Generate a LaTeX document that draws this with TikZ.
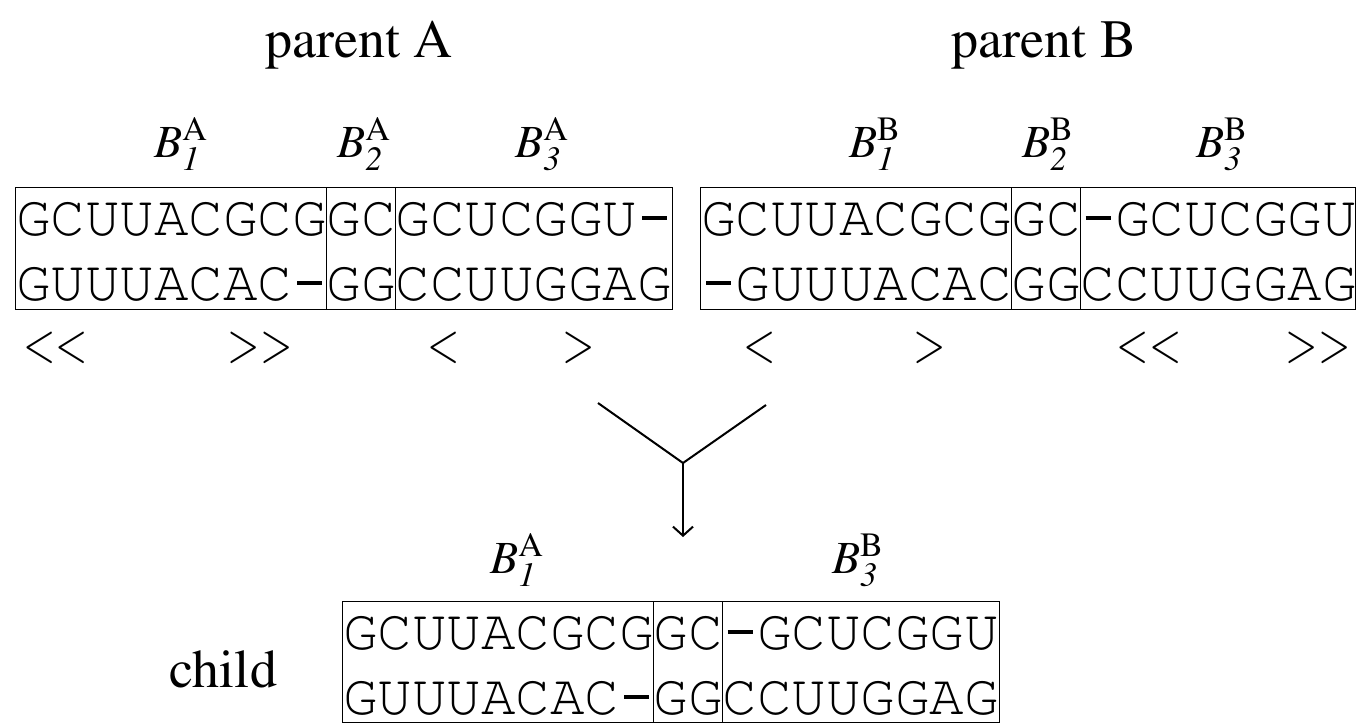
\documentclass[tikz,border=0pt]{standalone}
\usepackage[T1]{fontenc}
\usepackage{mathptmx}
\usepackage{graphicx}
\renewcommand\ttdefault{pcr}
\usetikzlibrary{arrows.meta}

% alignment gap: a heavy dash centred in one monospace cell
\newcommand\gp{\makebox[0.6em]{\rule[0.263em]{0.435em}{0.065em}}}
% structure brackets, slightly narrowed
\newcommand\opn{\scalebox{0.8}[1.05]{$\mathord{<}$}}
\newcommand\cls{\scalebox{0.8}[1.05]{$\mathord{>}$}}

\tikzset{
  seq/.style={anchor=base west, inner sep=0pt, font=\ttfamily\fontsize{28.75}{30}\selectfont},
  blk/.style={anchor=base, inner sep=0pt, font=\fontsize{23}{26}\selectfont},
  title/.style={anchor=base, inner sep=0pt, font=\fontsize{27}{30}\selectfont},
  brk/.style={anchor=base, inner sep=0pt, font=\fontsize{26}{28}\selectfont},
  frame/.style={line width=0.5pt},
  flow/.style={line width=1pt},
}

\begin{document}
\begin{tikzpicture}[x=0.5pt, y=-0.5pt]
\useasboundingbox (0,0) rectangle (1356,723);

% titles
\node[title] (pa) at (359,57) {parent A};
\node[title] (pb) at (1044,57) {parent B};

% block labels of parent A and parent B
\node[blk] (la1) at (181,157) {$B^{\mathrm{A}}_{\mathit{1}}$};
\node[blk] (la2) at (364,157) {$B^{\mathrm{A}}_{\mathit{2}}$};
\node[blk] (la3) at (542,157) {$B^{\mathrm{A}}_{\mathit{3}}$};
\node[blk] (lb1) at (875,157) {$B^{\mathrm{B}}_{\mathit{1}}$};
\node[blk] (lb2) at (1048,157) {$B^{\mathrm{B}}_{\mathit{2}}$};
\node[blk] (lb3) at (1222,157) {$B^{\mathrm{B}}_{\mathit{3}}$};

% parent A alignment
\draw[frame] (15,187) rectangle (672.5,309);
\draw[frame] (326.5,187) -- (326.5,309);
\draw[frame] (395.5,187) -- (395.5,309);
\node[seq] (ra1) at (16,235) {GCUUACGCGGCGCUCGGU\gp};
\node[seq] (ra2) at (16,300) {GUUUACAC\gp GGCCUUGGAG};

% parent B alignment
\draw[frame] (1355,187) -- (700,187) -- (700,309) -- (1355,309) -- cycle;
\draw[frame] (1011.5,187) -- (1011.5,309);
\draw[frame] (1080.5,187) -- (1080.5,309);
\node[seq] (rb1) at (701,235) {GCUUACGCGGC\gp GCUCGGU};
\node[seq] (rb2) at (701,300) {\gp GUUUACACGGCCUUGGAG};

% secondary structure brackets
\node[brk] (s1) at (56,361) {\opn\opn};
\node[brk] (s2) at (260,361) {\cls\cls};
\node[brk] (s3) at (444,361) {\opn};
\node[brk] (s4) at (579,361) {\cls};
\node[brk] (s5) at (760,361) {\opn};
\node[brk] (s6) at (930,361) {\cls};
\node[brk] (s7) at (1149,361) {\opn\opn};
\node[brk] (s8) at (1318,361) {\cls\cls};

% crossover
\coordinate (ya) at (598,403);
\coordinate (yb) at (766,405);
\coordinate (yj) at (683,463);
\coordinate (ye) at (683,537);
\draw[flow, line join=miter] (ya) -- (yj) -- (yb);
\draw[flow, -{Straight Barb[length=4.5pt, width=10pt]}] (yj) -- (ye);

% child
\node[blk] (lc1) at (517,573) {$B^{\mathrm{A}}_{\mathit{1}}$};
\node[blk] (lc3) at (858,573) {$B^{\mathrm{B}}_{\mathit{3}}$};
\node[title] (ch) at (223,687) {child};
\draw[frame] (342,601) rectangle (999.5,722);
\draw[frame] (653.5,601) -- (653.5,722);
\draw[frame] (722.5,601) -- (722.5,722);
\node[seq] (rc1) at (343,649) {GCUUACGCGGC\gp GCUCGGU};
\node[seq] (rc2) at (343,714) {GUUUACAC\gp GGCCUUGGAG};
\end{tikzpicture}
\end{document}
